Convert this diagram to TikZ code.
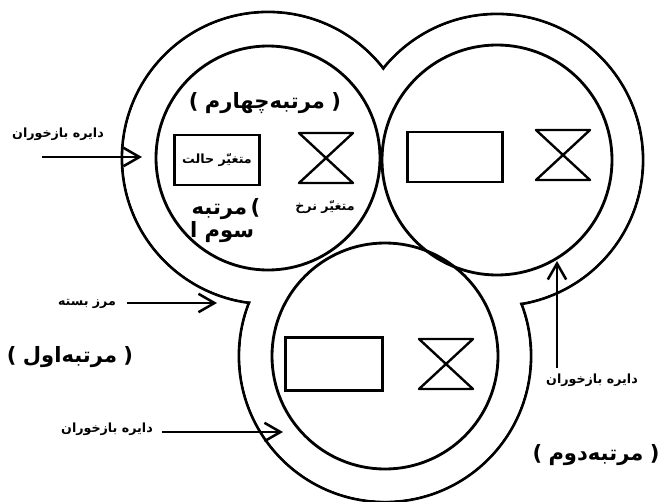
\documentclass[tikz,border=0pt]{standalone}
\usepackage{fontspec}
\newfontfamily\arabicfont[Script=Arabic]{DejaVu Sans}
\newfontfamily\parenfont{DejaVu Sans}
\TeXXeTstate=1
\usetikzlibrary{arrows.meta}
\newcommand{\fa}[1]{{\arabicfont\bfseries\beginR #1\endR}}
\newcommand{\lp}{{\parenfont\bfseries(}}
\newcommand{\rp}{{\parenfont\bfseries)}}

\tikzset{
  loopline/.style={line width=2pt},
  stock/.style={draw,rectangle,line width=1.7pt,inner sep=0pt},
  pointer/.style={line width=1.6pt,-{Straight Barb[length=4mm,width=4.6mm,line width=1.8pt]}},
  small/.style={font=\fontsize{9}{10}\selectfont},
  big/.style={font=\fontsize{15}{17}\selectfont},
  valve/.pic={\draw[line width=1.7pt,line join=round] (-27,-25) -- (27,-25) -- (-27,25) -- (27,25) -- cycle;}
}

\begin{document}
\begin{tikzpicture}[x=0.025cm,y=-0.025cm]
      \useasboundingbox (0,0) rectangle (672,501);
      \pgfmathsetmacro{\ri}{113}
      \pgfmathsetmacro{\ro}{146}

      % circle centres
      \coordinate (cA) at (268,158);
      \coordinate (cB) at (497,160);
      \coordinate (cC) at (385,356);

      % closed boundary
      \foreach \c in {cA,cB,cC} \draw[loopline] (\c) circle (\ro);
      \foreach \c in {cA,cB,cC} \fill[white] (\c) circle (\ro-1.5);

      % feedback loops
      \draw[loopline] (cA) circle (112);
      \draw[loopline] (cB) circle (115);
      \draw[loopline] (cC) circle (\ri);

      \node[stock,minimum width=2.125cm,minimum height=1.25cm] (sA) at (217,160) {\small\fa{متغیّر حالت}};
      \node[stock,minimum width=2.375cm,minimum height=1.25cm] (sB) at (455,157) {};
      \node[stock,minimum width=2.425cm,minimum height=1.325cm] (sC) at (334,364) {};

      \pic (vA) at (326,158) {valve};
      \pic (vB) at (563,155) {valve};
      \pic (vC) at (446,364) {valve};

      \node[small] (rate) at (325,207) {\fa{متغیّر نرخ}};

      % levels
      \node[big] (L4) at (265,103) {\lp\ \fa{مرتبه‌چهارم}\ \rp};
      \node[big] (L3a) at (226,209) {\fa{مرتبه}\,\lp};
      \node[big] (L3b) at (222,232) {\fa{سوم ا}};
      \node[big] (L1) at (70,357) {\lp\ \fa{مرتبه‌اول}\ \rp};
      \node[big] (L2) at (596,455) {\lp\ \fa{مرتبه‌دوم}\ \rp};

      % labels and arrows
      \node[small] (fbA) at (58,134) {\fa{دایره بازخوران}};
      \coordinate (fbA1) at (42,157);
      \coordinate (fbA2) at (142,157);
      \draw[pointer] (fbA1) -- (fbA2);

      \node[small] (edge) at (87,304) {\fa{مرز بسته}};
      \coordinate (edge1) at (127,303);
      \coordinate (edge2) at (217,303);
      \draw[pointer] (edge1) -- (edge2);

      \node[small] (fbB) at (592,380) {\fa{دایره بازخوران}};
      \coordinate (fbB1) at (557,368);
      \coordinate (fbB2) at (557,261);
      \draw[pointer] (fbB1) -- (fbB2);

      \node[small] (fbC) at (107,429) {\fa{دایره بازخوران}};
      \coordinate (fbC1) at (162,432);
      \coordinate (fbC2) at (283,432);
      \draw[pointer] (fbC1) -- (fbC2);
    \end{tikzpicture}
\end{document}
